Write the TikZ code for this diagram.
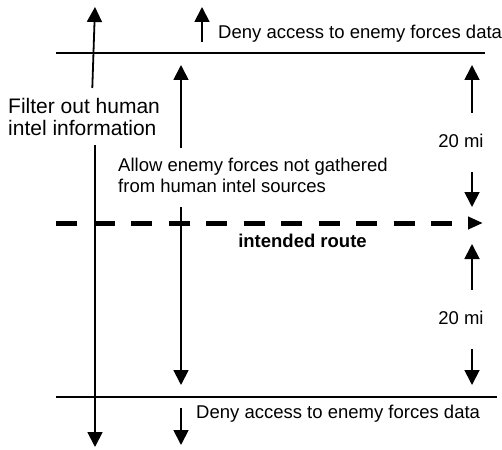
\documentclass[tikz,border=0pt]{standalone}
\usepackage{fontspec}
\setmainfont{Liberation Sans}
\usetikzlibrary{arrows.meta}
\begin{document}
\begin{tikzpicture}[x=1pt,y=-1pt,
  line/.style={line width=1.8pt},
  arr/.style={line width=1.8pt,-{Triangle[length=15pt,width=15pt]}},
  route/.style={line width=5pt,dash pattern=on 21pt off 16.5pt,-{Triangle[length=15pt,width=12pt]}},
  lbl/.style={inner sep=0pt,font=\fontsize{18.5}{21}\selectfont,align=left},
  big/.style={inner sep=0pt,font=\fontsize{21}{22}\selectfont,align=left}]
\useasboundingbox (0,0) rectangle (502,449);
% boundary lines
\coordinate (tl) at (56,53); \coordinate (tr) at (485,53);
\coordinate (bl) at (56,397); \coordinate (br) at (497,397);
\draw[line] (tl) -- (tr);
\draw[line] (bl) -- (br);
% intended route
\coordinate (rs) at (56,223); \coordinate (re) at (483,223);
\draw[route] (rs) -- (re);
\node[lbl,anchor=base,font=\fontsize{18.5}{21}\selectfont\bfseries] (route) at (302.5,247) {intended route};
% filter arrow
\node[big,anchor=north west] (filter) at (8,98) {Filter out human\\intel information};
\coordinate (f1) at (92.3,88); \coordinate (f1t) at (95,7);
\coordinate (f2) at (95,145); \coordinate (f2t) at (95,447);
\draw[arr] (f1) -- (f1t);
\draw[arr] (f2) -- (f2t);
% allow arrow
\node[lbl,anchor=north west] (allow) at (118,158) {Allow enemy forces not gathered\\from human intel sources};
\coordinate (a1) at (181,148); \coordinate (a1t) at (181,65);
\coordinate (a2) at (181,207); \coordinate (a2t) at (181,385);
\draw[arr] (a1) -- (a1t);
\draw[arr] (a2) -- (a2t);
% deny top
\node[lbl,anchor=base west] (denytop) at (218,38.5) {Deny access to enemy forces data};
\coordinate (d1) at (202,42); \coordinate (d1t) at (202,7);
\draw[arr] (d1) -- (d1t);
% deny bottom
\node[lbl,anchor=base west] (denybot) at (196,418) {Deny access to enemy forces data};
\coordinate (d2) at (181,408); \coordinate (d2t) at (181,445);
\draw[arr] (d2) -- (d2t);
% 20 mi upper
\node[lbl,anchor=base] (mi1) at (461,147) {20 mi};
\coordinate (m1) at (472,113); \coordinate (m1t) at (472,65);
\coordinate (m2) at (472,172); \coordinate (m2t) at (472,207);
\draw[arr] (m1) -- (m1t);
\draw[arr] (m2) -- (m2t);
% 20 mi lower
\node[lbl,anchor=base] (mi2) at (461,324) {20 mi};
\coordinate (m3) at (472,290); \coordinate (m3t) at (472,244);
\coordinate (m4) at (472,349); \coordinate (m4t) at (472,385);
\draw[arr] (m3) -- (m3t);
\draw[arr] (m4) -- (m4t);
\end{tikzpicture}
\end{document}
